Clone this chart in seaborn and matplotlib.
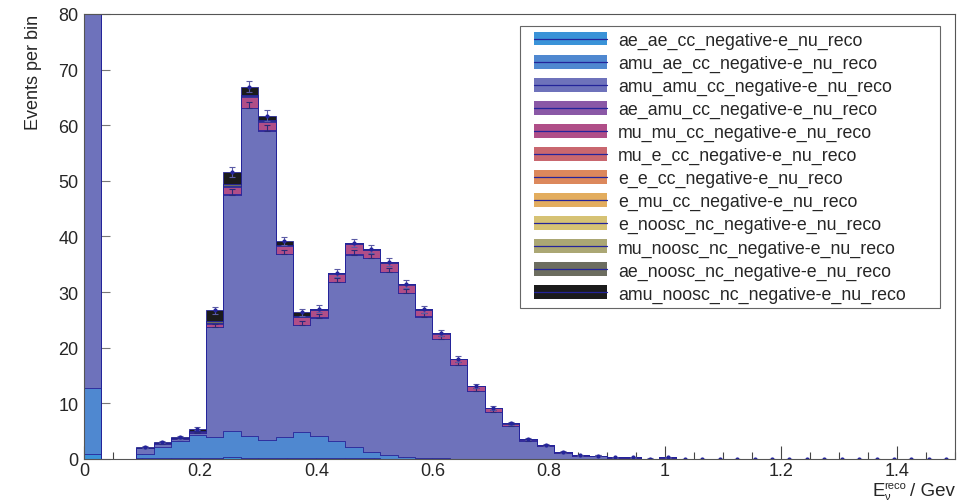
import numpy as np
import pandas as pd
import matplotlib
matplotlib.use("Agg")
import matplotlib.pyplot as plt
from matplotlib.patches import Patch, Rectangle
from matplotlib.lines import Line2D
from matplotlib.legend_handler import HandlerBase
from matplotlib.ticker import MultipleLocator, FuncFormatter
import seaborn as sns

# ---- binning: 50 bins of 0.03 GeV between 0 and 1.5 GeV ----
bin_edges = [round(0.03 * i, 2) for i in range(51)]

channels = [
    "ae_ae_cc_negative-e_nu_reco",
    "amu_ae_cc_negative-e_nu_reco",
    "amu_amu_cc_negative-e_nu_reco",
    "ae_amu_cc_negative-e_nu_reco",
    "mu_mu_cc_negative-e_nu_reco",
    "mu_e_cc_negative-e_nu_reco",
    "e_e_cc_negative-e_nu_reco",
    "e_mu_cc_negative-e_nu_reco",
    "e_noosc_nc_negative-e_nu_reco",
    "mu_noosc_nc_negative-e_nu_reco",
    "ae_noosc_nc_negative-e_nu_reco",
    "amu_noosc_nc_negative-e_nu_reco",
]
colors = ["#3a93d8", "#4f88d0", "#6e72bb", "#8a58a6", "#b04e88", "#c9676f",
          "#dc885c", "#e3ad5e", "#d6c274", "#aba774", "#6c6d5f", "#1b1b1b"]

# ---- events per bin for each channel ----
ae_ae_cc = [0.84, 0, 0, 0.10, 0.15, 0.20, 0.25, 0.25, 0.30, 0.25,
            0.25, 0.25, 0.25, 0.25, 0.20, 0.15, 0.10, 0.05, 0.05, 0,
            0, 0, 0, 0, 0, 0, 0, 0, 0, 0,
            0, 0, 0, 0, 0, 0, 0, 0, 0, 0,
            0, 0, 0, 0, 0, 0, 0, 0, 0, 0]
amu_ae_cc = [12.0, 0, 0, 0.80, 2.00, 3.10, 4.15, 3.75, 4.70, 3.90,
             3.15, 3.65, 4.55, 3.85, 3.00, 2.00, 1.15, 0.60, 0.30, 0.18,
             0.10, 0.08, 0.05, 0.04, 0.03, 0.02, 0, 0, 0, 0,
             0, 0, 0, 0, 0, 0, 0, 0, 0, 0,
             0, 0, 0, 0, 0, 0, 0, 0, 0, 0]
amu_amu_cc = [85.0, 0, 0, 1.00, 0.60, 0.30, 0.30, 19.7, 42.5, 58.9,
              55.6, 32.9, 19.3, 21.3, 28.6, 34.6, 34.8, 32.9, 29.4, 25.4,
              21.4, 16.8, 12.15, 8.35, 5.85, 3.30, 2.35, 1.15, 0.60, 0.55,
              0.25, 0.25, 0.08, 0.25, 0.04, 0.03, 0.05, 0.03, 0.04, 0.03,
              0.02, 0.03, 0.02, 0.02, 0.03, 0.02, 0.02, 0.02, 0.02, 0.02]
ae_amu_cc = [0.3, 0, 0, 0.02, 0.02, 0.02, 0.03, 0.05, 0.05, 0.05,
             0.05, 0.05, 0.05, 0.05, 0.05, 0.05, 0.05, 0.05, 0.05, 0.05,
             0.04, 0.04, 0.03, 0.03, 0.02, 0.02, 0.01, 0.01, 0, 0,
             0, 0, 0, 0, 0, 0, 0, 0, 0, 0,
             0, 0, 0, 0, 0, 0, 0, 0, 0, 0]
mu_mu_cc = [0.5, 0, 0, 0.05, 0.08, 0.10, 0.20, 0.60, 1.30, 2.00,
            1.60, 1.40, 1.30, 1.30, 1.40, 1.80, 1.40, 1.60, 1.50, 1.10,
            1.00, 1.00, 0.80, 0.70, 0.45, 0.25, 0.15, 0.10, 0.06, 0.06,
            0.03, 0.03, 0, 0.02, 0, 0, 0, 0, 0, 0,
            0, 0, 0, 0, 0, 0, 0, 0, 0, 0]
mu_e_cc = [0.1, 0, 0, 0.01, 0.01, 0.01, 0.01, 0.03, 0.03, 0.03,
           0.03, 0.03, 0.03, 0.03, 0.03, 0.03, 0.03, 0.03, 0.03, 0.03,
           0.02, 0.02, 0.02, 0.02, 0.01, 0.01, 0, 0, 0, 0,
           0, 0, 0, 0, 0, 0, 0, 0, 0, 0,
           0, 0, 0, 0, 0, 0, 0, 0, 0, 0]
e_e_cc = [0.05, 0, 0, 0.01, 0.01, 0.01, 0.01, 0.02, 0.02, 0.02,
          0.02, 0.02, 0.02, 0.02, 0.02, 0.02, 0.02, 0.02, 0.02, 0.02,
          0.01, 0.01, 0.01, 0.01, 0.01, 0, 0, 0, 0, 0,
          0, 0, 0, 0, 0, 0, 0, 0, 0, 0,
          0, 0, 0, 0, 0, 0, 0, 0, 0, 0]
e_mu_cc = [0.05, 0, 0, 0.01, 0.01, 0.01, 0.01, 0.02, 0.02, 0.02,
           0.02, 0.02, 0.02, 0.02, 0.02, 0.02, 0.02, 0.02, 0.02, 0.02,
           0.01, 0.01, 0.01, 0.01, 0.01, 0, 0, 0, 0, 0,
           0, 0, 0, 0, 0, 0, 0, 0, 0, 0,
           0, 0, 0, 0, 0, 0, 0, 0, 0, 0]
e_noosc_nc = [0.05, 0, 0, 0.01, 0.01, 0.01, 0.02, 0.02, 0.03, 0.02,
              0.02, 0.02, 0.02, 0.02, 0.02, 0.02, 0.02, 0.02, 0.02, 0.02,
              0.01, 0.01, 0.01, 0.01, 0, 0, 0, 0, 0, 0,
              0, 0, 0, 0, 0, 0, 0, 0, 0, 0,
              0, 0, 0, 0, 0, 0, 0, 0, 0, 0]
mu_noosc_nc = [0.1, 0, 0, 0.02, 0.02, 0.02, 0.03, 0.05, 0.06, 0.05,
               0.04, 0.04, 0.04, 0.03, 0.03, 0.03, 0.03, 0.03, 0.03, 0.02,
               0.02, 0.02, 0.02, 0.01, 0.01, 0, 0, 0, 0, 0,
               0, 0, 0, 0, 0, 0, 0, 0, 0, 0,
               0, 0, 0, 0, 0, 0, 0, 0, 0, 0]
ae_noosc_nc = [0.2, 0, 0, 0.03, 0.03, 0.04, 0.08, 0.25, 0.35, 0.20,
               0.15, 0.15, 0.10, 0.08, 0.08, 0.08, 0.06, 0.06, 0.05, 0.05,
               0.04, 0.04, 0.03, 0.03, 0.02, 0.02, 0.01, 0.01, 0, 0,
               0, 0, 0, 0, 0, 0, 0, 0, 0, 0,
               0, 0, 0, 0, 0, 0, 0, 0, 0, 0]
amu_noosc_nc = [1.0, 0, 0, 0.05, 0.05, 0.05, 0.35, 2.00, 2.20, 1.50,
                0.80, 0.70, 0.70, 0.10, 0.03, 0.03, 0.02, 0.02, 0.02, 0.02,
                0, 0, 0, 0, 0, 0, 0, 0, 0, 0,
                0, 0, 0, 0, 0, 0, 0, 0, 0, 0,
                0, 0, 0, 0, 0, 0, 0, 0, 0, 0]

# statistical uncertainties on the stack total and on the amu_amu layer
total_err = [0, 0, 0, 0.18, 0.20, 0.23, 0.27, 0.62, 0.86, 0.98,
             0.94, 0.75, 0.61, 0.62, 0.69, 0.75, 0.74, 0.71, 0.67, 0.62,
             0.57, 0.51, 0.43, 0.36, 0.30, 0.23, 0.19, 0.14, 0.10, 0.10,
             0.07, 0.07, 0.04, 0.07, 0.03, 0.03, 0.03, 0.03, 0.03, 0.03,
             0.02, 0.02, 0.02, 0.02, 0.02, 0.02, 0.02, 0.02, 0.02, 0.02]
amu_amu_err = [0, 0, 0, 0.15, 0.12, 0.08, 0.08, 0.65, 0.95, 1.08,
               1.05, 0.80, 0.62, 0.65, 0.75, 0.83, 0.83, 0.80, 0.76, 0.71,
               0.65, 0.58, 0.49, 0.41, 0.34, 0.26, 0.22, 0.15, 0.10, 0.10,
               0, 0, 0, 0, 0, 0, 0, 0, 0, 0,
               0, 0, 0, 0, 0, 0, 0, 0, 0, 0]

series = [ae_ae_cc, amu_ae_cc, amu_amu_cc, ae_amu_cc, mu_mu_cc, mu_e_cc,
          e_e_cc, e_mu_cc, e_noosc_nc, mu_noosc_nc, ae_noosc_nc, amu_noosc_nc]

edges = np.array(bin_edges)
centers = 0.5 * (edges[:-1] + edges[1:])
frames = [pd.DataFrame({"energy": centers, "events": vals, "channel": name})
          for name, vals in zip(channels, series)]
df = pd.concat(frames, ignore_index=True)

navy = "#24249a"

sns.set_theme(style="white")
plt.rcParams["font.family"] = ["Liberation Sans", "DejaVu Sans"]

W, H = 957, 502
fig = plt.figure(figsize=(W / 100, H / 100), dpi=100)
ax = fig.add_axes([0.0878, 0.0837, 0.910, 0.8865])

# seaborn stacks the first hue level on top, so feed the channels bottom-last
sns.histplot(data=df, x="energy", weights="events", hue="channel",
             hue_order=channels[::-1], palette=dict(zip(channels, colors)),
             bins=bin_edges, multiple="stack", element="step", fill=True,
             alpha=1.0, edgecolor=navy, linewidth=0.55, legend=False, ax=ax)

stack = np.cumsum(np.array(series), axis=0)
amu_amu_top = stack[2]
total = stack[-1]
shown = np.array(total_err) > 0

# uncertainty markers on the amu_amu layer (upper half visible)
sel = np.array(amu_amu_err) > 0
ax.errorbar(centers[sel], amu_amu_top[sel],
            yerr=[np.zeros(sel.sum()), np.array(amu_amu_err)[sel]],
            fmt="none", ecolor="#2a2a7a", elinewidth=0.8, capsize=2, capthick=0.8)

# uncertainty on the stack total
ax.errorbar(centers[shown], total[shown], yerr=np.array(total_err)[shown],
            fmt="o", ms=2.0, color=navy, ecolor="#5b5ba5", elinewidth=0.8,
            capsize=2, capthick=0.8)

ax.set_xlim(0, 1.5)
ax.set_ylim(0, 80)

ax.xaxis.set_major_locator(MultipleLocator(0.2))
ax.xaxis.set_minor_locator(MultipleLocator(0.05))
ax.yaxis.set_major_locator(MultipleLocator(10))
ax.yaxis.set_minor_locator(MultipleLocator(2))
ax.xaxis.set_major_formatter(FuncFormatter(lambda v, p: f"{v:g}"))

ax.tick_params(axis="x", which="major", direction="in", length=9.5, width=0.8,
               color="#444444", labelsize=13, pad=2)
ax.tick_params(axis="x", which="minor", direction="in", length=5, width=0.8,
               color="#444444")
ax.tick_params(axis="y", which="major", direction="in", length=19, width=0.8,
               color="#777777", labelsize=13, pad=4)
ax.tick_params(axis="y", which="minor", direction="in", length=9.5, width=0.8,
               color="#777777")
ax.tick_params(bottom=True, left=True, top=False, right=False, which="both")

for sp in ax.spines.values():
    sp.set_color("#555555")
    sp.set_linewidth(0.8)

ax.set_xlabel("")
ax.set_ylabel("Events per bin", fontsize=13, loc="top", labelpad=12)

# x-axis title E_nu^reco / Gev, set piece by piece under the right end
def fig_xy(px, py):
    return px / W, 1 - py / H

fig.text(*fig_xy(872, 496.5), "E", fontsize=13.5, ha="left", va="baseline")
fig.text(*fig_xy(884.5, 489), "reco", fontsize=8, ha="left", va="baseline")
fig.text(*fig_xy(884.5, 500), "\u03bd", fontsize=8, ha="left", va="baseline")
fig.text(*fig_xy(955, 496.5), "/ Gev", fontsize=13.5, ha="right", va="baseline")


class BandHandler(HandlerBase):
    """Filled band with the outline colour running through its middle."""

    def create_artists(self, legend, orig_handle, xdescent, ydescent,
                       width, height, fontsize, trans):
        pad = 0.45 * fontsize
        x0 = -xdescent + pad
        w = width - pad
        rect = Rectangle((x0, -ydescent), w, height,
                         facecolor=orig_handle.get_facecolor(),
                         edgecolor="none", transform=trans)
        line = Line2D([x0, x0 + w], [-ydescent + height / 2] * 2,
                      color=navy, lw=0.9, transform=trans)
        return [rect, line]


handles = [Patch(facecolor=c) for c in colors]
leg = ax.legend(handles, channels, handler_map={Patch: BandHandler()},
                loc="upper left", bbox_to_anchor=(0.5006, 0.0, 0.4822, 0.973),
                mode="expand", fontsize=12.8, frameon=True, fancybox=False,
                framealpha=1, edgecolor="#666666", borderpad=0.33,
                labelspacing=0.33, handlelength=4.55, handleheight=0.8,
                handletextpad=0.65, borderaxespad=0)
leg.get_frame().set_linewidth(0.8)

fig.savefig("out.png", dpi=100)
